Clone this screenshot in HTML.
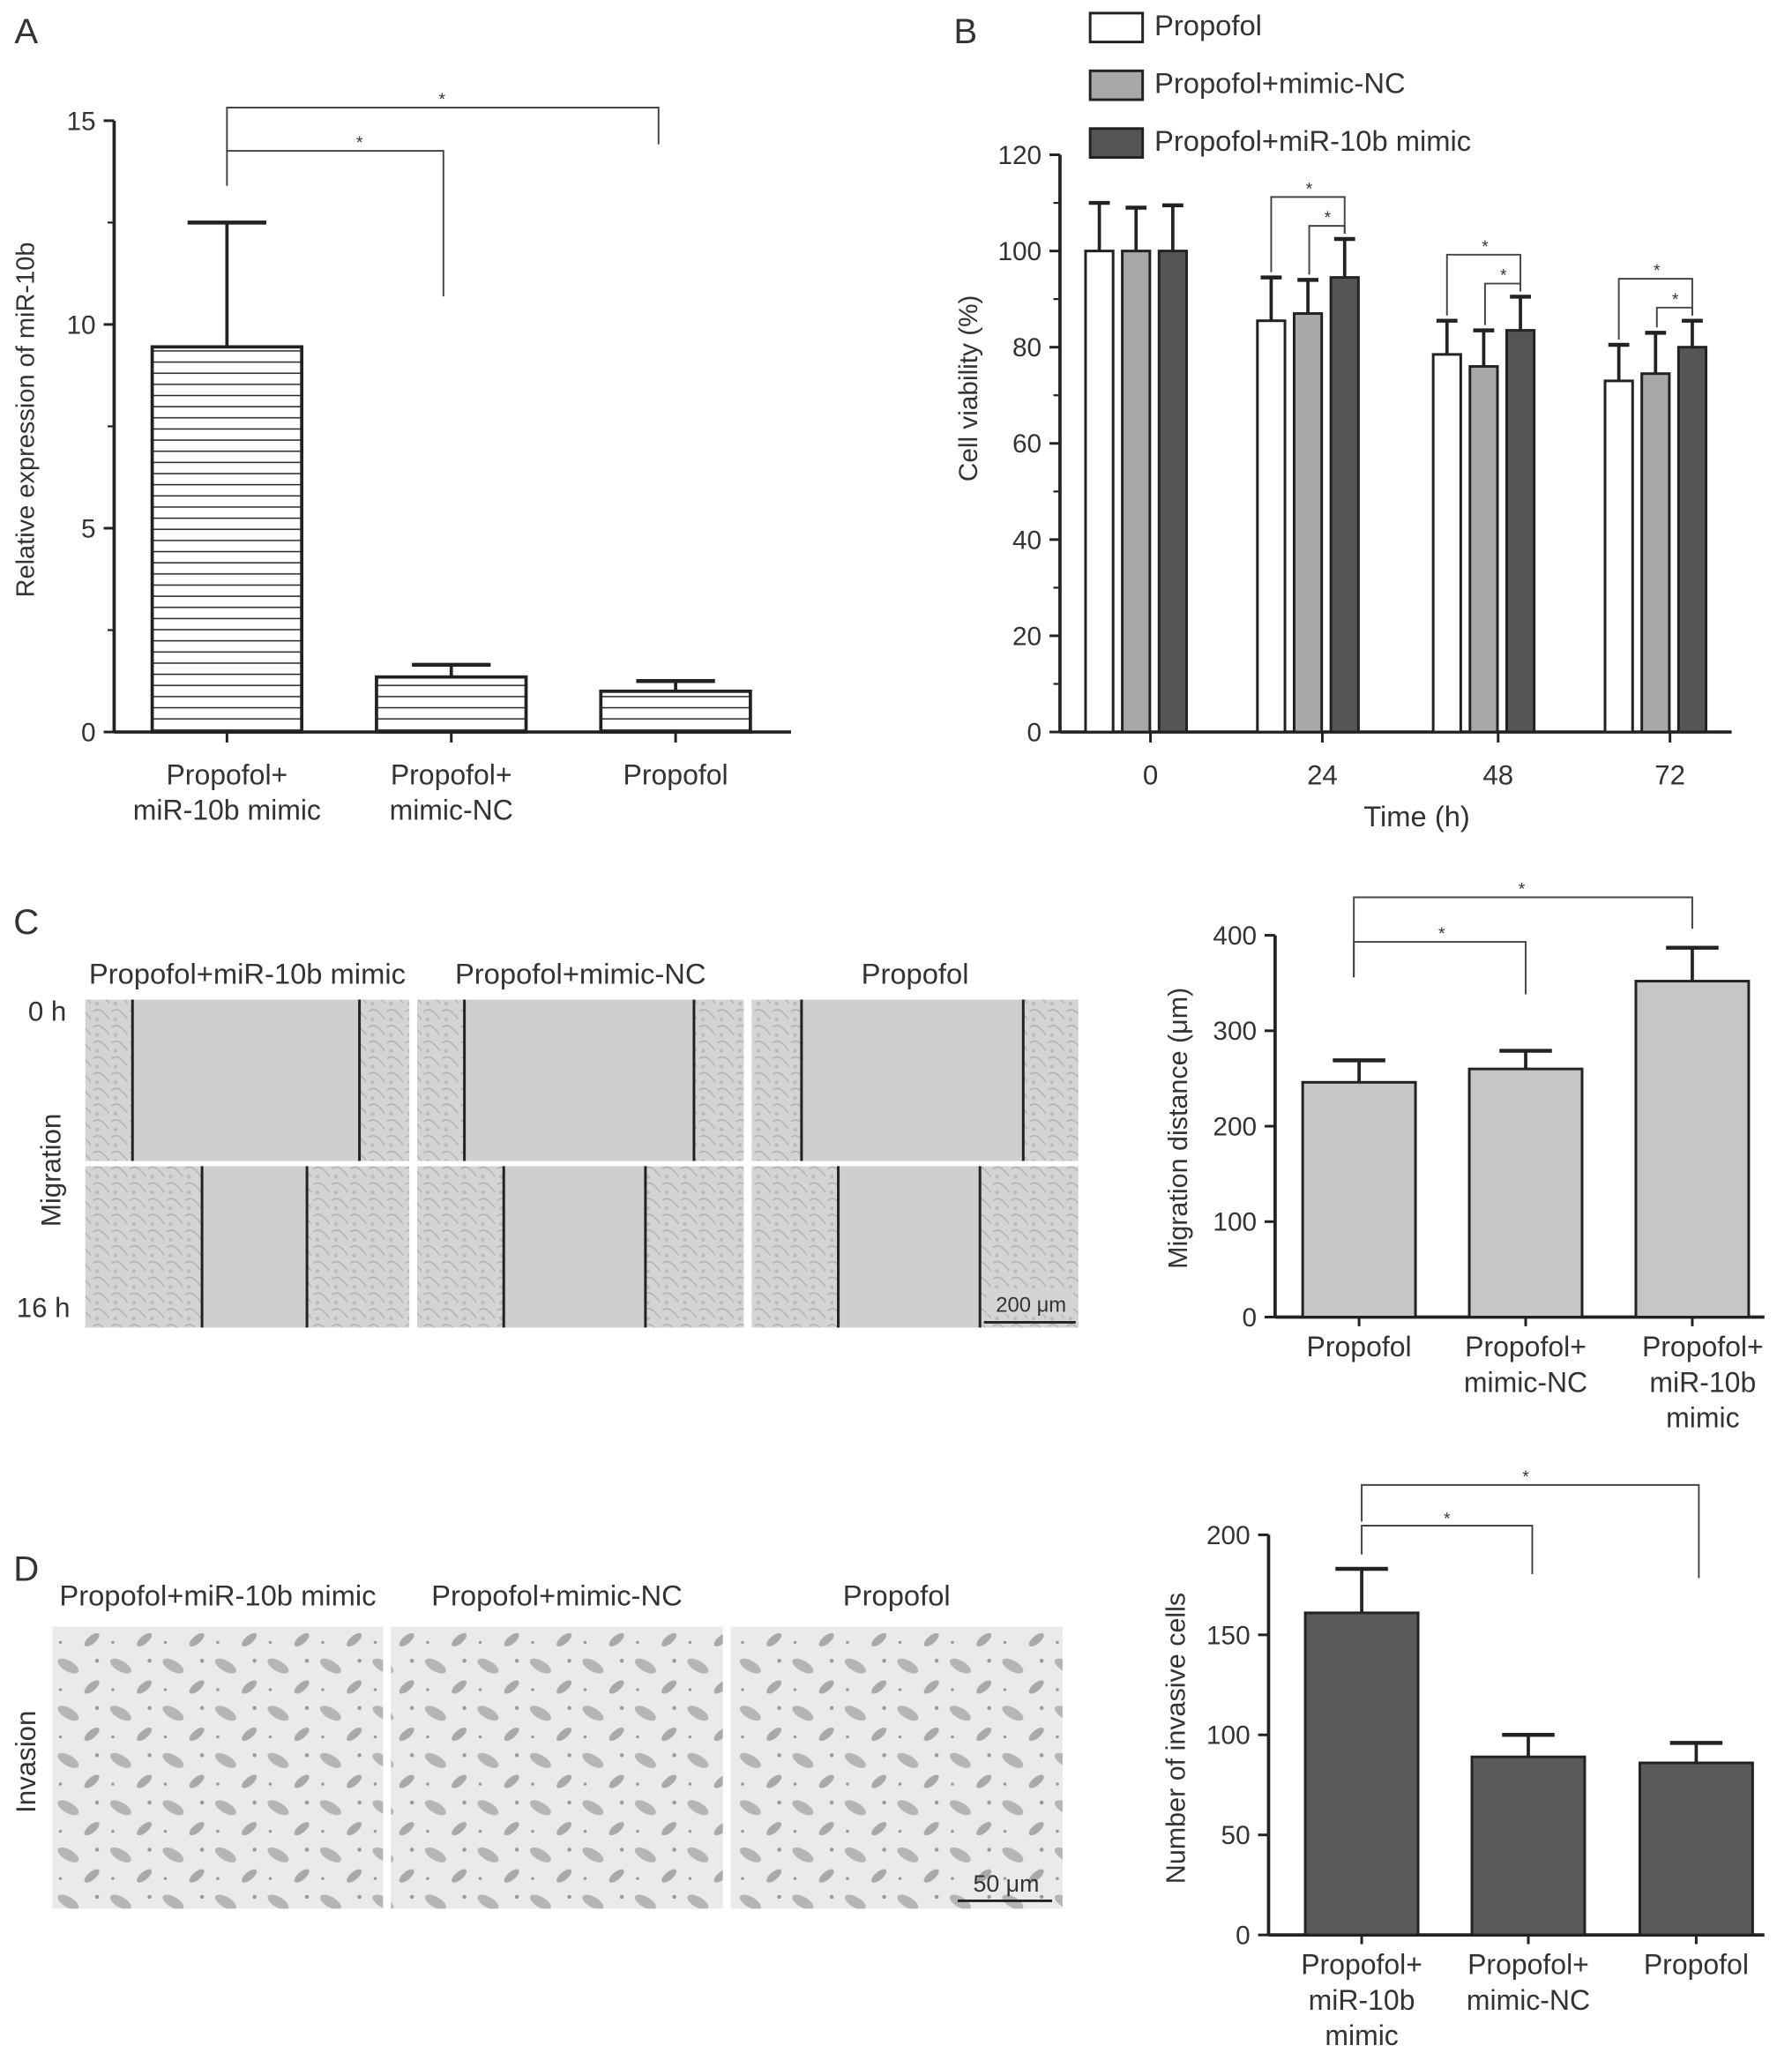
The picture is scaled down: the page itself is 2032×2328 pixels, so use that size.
<!DOCTYPE html>
<html><head><meta charset="utf-8"><style>
html,body{margin:0;padding:0;background:#fff}
svg{display:block}
text{font-family:"Liberation Sans",sans-serif;fill:#333}
</style></head><body>
<svg id="fig" width="2032" height="2328" viewBox="0 0 1366 1565" xmlns="http://www.w3.org/2000/svg">
<defs>
<pattern id="hatch" width="6" height="8.5" patternUnits="userSpaceOnUse"><line x1="0" y1="4" x2="6" y2="4" stroke="#222" stroke-width="1"/></pattern>
<pattern id="cells" width="14" height="12" patternUnits="userSpaceOnUse"><rect width="14" height="12" fill="#d4d4d4"/><path d="M1 3 Q5 0 9 4 T13 9" stroke="#b2b2b2" fill="none"/><circle cx="4" cy="9" r="1.5" fill="#bbb"/></pattern>
<pattern id="inv" width="40" height="36" patternUnits="userSpaceOnUse"><rect width="40" height="36" fill="#eaeaea"/><ellipse cx="12" cy="10" rx="9" ry="4" transform="rotate(30 12 10)" fill="#b5b5b5"/><ellipse cx="30" cy="26" rx="7" ry="3" transform="rotate(-40 30 26)" fill="#a9a9a9"/><circle cx="34" cy="6" r="1.5" fill="#999"/><circle cx="6" cy="28" r="1.2" fill="#999"/></pattern>
</defs>
<g id="root"></g>
</svg>
<script>
// Panel A data
const aCats=["Propofol+|miR-10b mimic","Propofol+|mimic-NC","Propofol"];
const aVals=[9.45,1.35,1.0];
const aErr=[12.5,1.65,1.25];
const aTicks=[0,5,10,15];
// Panel B data
const bTimes=["0","24","48","72"];
const bSeries=["Propofol","Propofol+mimic-NC","Propofol+miR-10b mimic"];
const bP=[100,85.5,78.5,73];
const bNC=[100,87,76,74.5];
const bMi=[100,94.5,83.5,80];
const bPe=[110,94.5,85.5,80.5];
const bNCe=[109,94,83.5,83];
const bMie=[109.5,102.5,90.5,85.5];
const bTicks=[0,20,40,60,80,100,120];
// Panel C data
const cCats=["Propofol","Propofol+|mimic-NC","Propofol+|miR-10b|mimic"];
const cVals=[246,260,352];
const cErr=[269,279,387];
const cTicks=[0,100,200,300,400];
// Panel D data
const dCats=["Propofol+|miR-10b|mimic","Propofol+|mimic-NC","Propofol"];
const dVals=[161,89,86];
const dErr=[183,100,96];
const dTicks=[0,50,100,150,200];

const NS="http://www.w3.org/2000/svg";
const root=document.getElementById('root');
function el(tag,attrs,parent,txt){const e=document.createElementNS(NS,tag);for(const k in attrs)e.setAttribute(k,attrs[k]);if(txt!==undefined)e.textContent=txt;(parent||root).appendChild(e);return e;}
function grp(name){const g=el('g',{});return g;}
function txt(g,x,y,s,size,anchor,name,rot){const t=el('text',{x:x,y:y,'font-size':size,'text-anchor':anchor||'middle'},g,s);if(rot)t.setAttribute('transform','rotate(-90 '+x+' '+y+')');return t;}
function multi(g,x,y,s,size,lh,name){s.split('|').forEach((l,i)=>txt(g,x,y+i*lh,l,size,'middle',name));}
function line(g,x1,y1,x2,y2,w){return el('line',{x1:x1,y1:y1,x2:x2,y2:y2,stroke:'#222','stroke-width':w||2},g);}
function errbar(g,x,y0,y1,cap){line(g,x,y0,x,y1,2.5);line(g,x-cap,y1,x+cap,y1,3);}
function bracket(g,x1,x2,yTop,yl,yr,sx,sy){const p=el('path',{d:`M${x1} ${yl} V${yTop} H${x2} V${yr}`,fill:'none',stroke:'#444','stroke-width':1.3},g);txt(g,sx,sy,'*',13,'middle','significance-star');}

// ---------- Panel A ----------
(function(){
const g=grp('panel-a-chart');
txt(g,20,33,'A',27,'middle','panel-label-a');
const y=v=>558-v*(466/15);
const X0=87;
line(g,X0,y(15),X0,558,2.5);line(g,X0,558,603,558,2.5);
aTicks.forEach(t=>{line(g,X0-8,y(t),X0,y(t),2);txt(g,X0-14,y(t)+7,String(t),20,'end','y-tick-label');});
[2.5,7.5,12.5].forEach(t=>line(g,X0-5,y(t),X0,y(t),1.5));
const xs=[173,344,515],w=114;
aVals.forEach((v,i)=>{
 const r=el('rect',{x:xs[i]-w/2,y:y(v),width:w,height:558-y(v),fill:'url(#hatch)',stroke:'#222','stroke-width':2.5},g);
 
 errbar(g,xs[i],y(v),y(aErr[i]),30);
 line(g,xs[i],558,xs[i],566,2);
 multi(g,xs[i],598,aCats[i],21.5,27,'x-tick-label');
});
txt(g,26,320,'Relative expression of miR-10b',19.5,'middle','y-axis-title',true);
bracket(g,173,338,115,y(aErr[0])-28,226,274,113);
bracket(g,173,502,82,115,110,337,80);
})();

// ---------- Panel B ----------
(function(){
const g=grp('panel-b-chart');
txt(g,736,33,'B',27,'middle','panel-label-b');
const y=v=>558-v*(440/120);
const X0=808;
line(g,X0,y(120),X0,558,2.5);line(g,X0,558,1320,558,2.5);
bTicks.forEach(t=>{line(g,X0-8,y(t),X0,y(t),2);txt(g,X0-14,y(t)+7,String(t),20,'end','y-tick-label');});
bTicks.slice(0,-1).forEach(t=>line(g,X0-5,y(t+10),X0,y(t+10),1.5));
const labX=[877,1008,1142,1273];
const fills=['#fff','#a8a8a8','#555'];
const vals=[bP,bNC,bMi],errs=[bPe,bNCe,bMie];
bTimes.forEach((tm,i)=>{
 const c=labX[i]-11;
 [0,1,2].forEach(s=>{
  const bx=c+(s-1)*28,v=vals[s][i];
  const r=el('rect',{x:bx-10.5,y:y(v),width:21,height:558-y(v),fill:fills[s],stroke:'#222','stroke-width':2},g);
  
  errbar(g,bx,y(v),y(errs[s][i]),8);
 });
 line(g,labX[i],558,labX[i],566,2);
 txt(g,labX[i],598,tm,21,'middle','x-tick-label');
 if(i>0){
  const xw=c-28,xg=c,xm=c+28;
  const top=y(errs[2][i])-14;
  bracket(g,xw,xm,top-18,y(errs[0][i])-4,y(errs[2][i])-4,(xw+xm)/2+1,top-20);
  bracket(g,xg+1,xm,top+4,y(errs[1][i])-4,y(errs[2][i])-4,(xg+xm)/2+1,top+2);
 }
});
txt(g,1080,630,'Time (h)',22,'middle','x-axis-title');
txt(g,745,296,'Cell viability (%)',20,'middle','y-axis-title',true);
bSeries.forEach((s,i)=>{
 const lg=el('g',{},g);
 el('rect',{x:831,y:10+i*44,width:40,height:22,fill:fills[i],stroke:'#222','stroke-width':2},lg);
 txt(lg,880,27+i*44,s,22,'start','legend-label');
});
})();

// ---------- Panel C images ----------
(function(){
const g=grp('panel-c-images');
txt(g,20,712,'C',27,'middle','panel-label-c');
const titles=["Propofol+miR-10b mimic","Propofol+mimic-NC","Propofol"];
const cols=[[65,312],[318,567],[573,822]];
const lines0=[[101,274],[354,529],[611,780]];
const lines1=[[154,234],[384,492],[639,747]];
titles.forEach((t,i)=>txt(g,(cols[i][0]+cols[i][1])/2,750,t,22,'middle','image-column-title'));
cols.forEach((c,i)=>{
 [[762,885,lines0[i]],[889,1012,lines1[i]]].forEach(([y0,y1,ls],r)=>{
  const im=el('g',{},g);
  el('rect',{x:c[0],y:y0,width:c[1]-c[0],height:y1-y0,fill:'url(#cells)'},im);
  el('rect',{x:ls[0],y:y0,width:ls[1]-ls[0],height:y1-y0,fill:'#cfcfcf'},im);
  line(im,ls[0],y0,ls[0],y1,2);line(im,ls[1],y0,ls[1],y1,2);
 });
});
txt(g,36,778,'0 h',21,'middle','row-label');
txt(g,33,1004,'16 h',21,'middle','row-label');
txt(g,46,892,'Migration',21,'middle','row-label',true);
el('rect',{x:752,y:982,width:66,height:20,fill:'#d4d4d4'},g);
txt(g,786,1000,'200 μm',16,'middle','scale-bar-label');
line(g,750,1008,820,1008,2);
})();

// ---------- Panel C chart ----------
(function(){
const g=grp('panel-c-chart');
const y=v=>1004-v*(291/400);
const X0=972;
line(g,X0,y(400),X0,1004,2.5);line(g,X0,1004,1345,1004,2.5);
cTicks.forEach(t=>{line(g,X0-8,y(t),X0,y(t),2);txt(g,X0-14,y(t)+7,String(t),20,'end','y-tick-label');});
const xs=[1036,1163,1290],w=86;
cVals.forEach((v,i)=>{
 const r=el('rect',{x:xs[i]-w/2,y:y(v),width:w,height:1004-y(v),fill:'#c6c6c6',stroke:'#222','stroke-width':2},g);
 
 errbar(g,xs[i],y(v),y(cErr[i]),20);
 line(g,xs[i],1004,xs[i],1011,2);
 multi(g,xs[i]+(i==2?8:0),1034,cCats[i],21.5,27,'x-tick-label');
});
txt(g,905,860,'Migration distance (μm)',20.5,'middle','y-axis-title',true);
bracket(g,1032,1163,718,745,758,1099,716);
bracket(g,1032,1290,684,745,708,1160,682);
})();

// ---------- Panel D images ----------
(function(){
const g=grp('panel-d-images');
txt(g,20,1205,'D',27,'middle','panel-label-d');
const titles=["Propofol+miR-10b mimic","Propofol+mimic-NC","Propofol"];
const cols=[[40,292],[298,551],[557,810]];
titles.forEach((t,i)=>txt(g,(cols[i][0]+cols[i][1])/2,1224,t,22,'middle','image-column-title'));
cols.forEach((c,i)=>{
 const r=el('rect',{x:c[0],y:1240,width:c[1]-c[0],height:215,fill:'url(#inv)'},g);
 
});
txt(g,27,1343,'Invasion',21,'middle','row-label',true);
txt(g,767,1442,'50 μm',18,'middle','scale-bar-label');
line(g,730,1449,802,1449,2);
})();

// ---------- Panel D chart ----------
(function(){
const g=grp('panel-d-chart');
const y=v=>1475-v*(305/200);
const X0=967;
line(g,X0,y(200),X0,1475,2.5);line(g,X0,1475,1345,1475,2.5);
dTicks.forEach(t=>{line(g,X0-8,y(t),X0,y(t),2);txt(g,X0-14,y(t)+7,String(t),20,'end','y-tick-label');});
const xs=[1038,1165,1293],w=86;
dVals.forEach((v,i)=>{
 const r=el('rect',{x:xs[i]-w/2,y:y(v),width:w,height:1475-y(v),fill:'#5a5a5a',stroke:'#222','stroke-width':2},g);
 
 errbar(g,xs[i],y(v),y(dErr[i]),20);
 line(g,xs[i],1475,xs[i],1482,2);
 multi(g,xs[i],1505,dCats[i],21.5,27,'x-tick-label');
});
txt(g,903,1325,'Number of invasive cells',20.5,'middle','y-axis-title',true);
bracket(g,1038,1168,1163,1185,1200,1103,1162);
bracket(g,1038,1295,1132,1160,1203,1163,1130);
})();
</script>
</body></html>
